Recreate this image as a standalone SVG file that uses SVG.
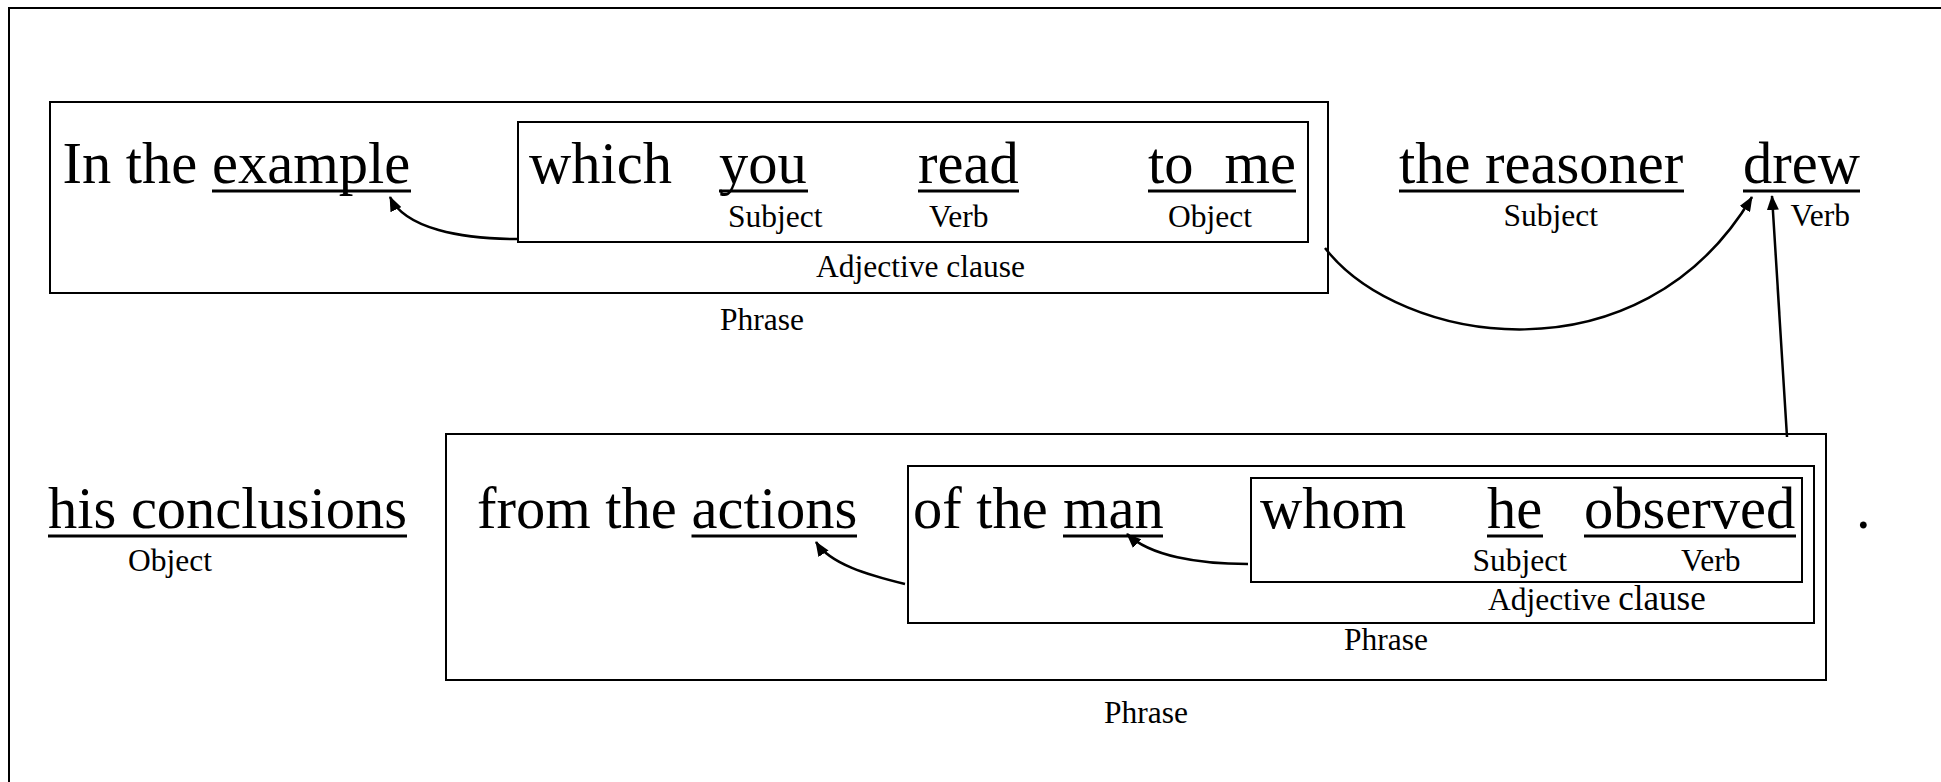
<svg xmlns="http://www.w3.org/2000/svg" width="1941" height="782" viewBox="0 0 1941 782">
<style>
.box{fill:none;stroke:#000;stroke-width:2}
.big{font-family:"Liberation Serif","Times New Roman",serif;font-size:58.5px;fill:#000}
.sm{font-family:"Liberation Serif","Times New Roman",serif;font-size:31.5px;fill:#000}
.ul{stroke:#000;stroke-width:3}
.con{fill:none;stroke:#000;stroke-width:2.5}
</style>
<defs>
<marker id="ah" markerUnits="userSpaceOnUse" markerWidth="15" markerHeight="12" refX="14" refY="6" orient="auto">
<path d="M0,0 L15,6 L0,12 z" fill="#000"/>
</marker>
</defs>
<rect x="0" y="0" width="1941" height="782" fill="#fff"/>
<rect id="frame" x="9" y="8" width="1960" height="800" class="box"/>

<g id="phrase-top">
<rect x="50" y="102" width="1278" height="191" class="box"/>
<text class="big" x="62.5" y="183">In the </text>
<text class="big" x="212" y="183">example</text>
<line class="ul" x1="212" y1="191" x2="411" y2="191"/>
<text class="sm" x="720" y="330">Phrase</text>
</g>

<g id="adjclause-top">
<rect x="518" y="122" width="790" height="120" class="box"/>
<text class="big" x="529" y="183">which</text>
<text class="big" x="719" y="183">you</text>
<line class="ul" x1="719" y1="191" x2="808" y2="191"/>
<text class="big" x="918" y="183">read</text>
<line class="ul" x1="918" y1="191" x2="1019" y2="191"/>
<text class="big" x="1148" y="183">to</text>
<text class="big" x="1224.5" y="183">me</text>
<line class="ul" x1="1148" y1="191" x2="1296" y2="191"/>
<text class="sm" x="728" y="227">Subject</text>
<text class="sm" x="929" y="227">Verb</text>
<text class="sm" x="1168" y="227">Object</text>
<text class="sm" x="816" y="277">Adjective clause</text>
</g>

<g id="subject">
<text class="big" x="1399" y="183">the reasoner</text>
<line class="ul" x1="1399" y1="191" x2="1684" y2="191"/>
<text class="sm" x="1503.5" y="226">Subject</text>
</g>

<g id="verb">
<text class="big" x="1743" y="183">drew</text>
<line class="ul" x1="1743" y1="191" x2="1860" y2="191"/>
<text class="sm" x="1790.5" y="226">Verb</text>
</g>

<g id="object">
<text class="big" x="48" y="528">his conclusions</text>
<line class="ul" x1="48" y1="536" x2="407" y2="536"/>
<text class="sm" x="128" y="571">Object</text>
</g>

<g id="phrase-bottom">
<rect x="446" y="434" width="1380" height="246" class="box"/>
<text class="big" x="477" y="528">from the </text>
<text class="big" x="691.5" y="528">actions</text>
<line class="ul" x1="691.5" y1="536" x2="857" y2="536"/>
<text class="sm" x="1104" y="723">Phrase</text>
</g>

<g id="phrase-middle">
<rect x="908" y="466" width="906" height="157" class="box"/>
<text class="big" x="913" y="528">of the </text>
<text class="big" x="1063" y="528">man</text>
<line class="ul" x1="1063" y1="536" x2="1163" y2="536"/>
<text class="sm" x="1344" y="650">Phrase</text>
</g>

<g id="adjclause-bottom">
<rect x="1251" y="478" width="551" height="104" class="box"/>
<text class="big" x="1260" y="528">whom</text>
<text class="big" x="1487" y="528">he</text>
<line class="ul" x1="1487" y1="536" x2="1543" y2="536"/>
<text class="big" x="1584" y="528">observed</text>
<line class="ul" x1="1584" y1="536" x2="1796" y2="536"/>
<text class="sm" x="1472.5" y="571">Subject</text>
<text class="sm" x="1681" y="571">Verb</text>
<text class="sm" x="1488" y="610">Adjective <tspan font-size="35">clause</tspan></text>
</g>

<g id="period">
<text class="big" x="1856" y="528">.</text>
</g>

<g id="connectors">
<path class="con" d="M518,239 C462,239 405,229 390,197" marker-end="url(#ah)"/>
<path class="con" d="M1325,248 C1400,345 1640,385 1752,197" marker-end="url(#ah)"/>
<path class="con" d="M1787,437 L1772,196" marker-end="url(#ah)"/>
<path class="con" d="M905,584 C868,575 830,564 816,542" marker-end="url(#ah)"/>
<path class="con" d="M1248,564 C1198,564 1150,556 1127,534" marker-end="url(#ah)"/>
</g>
</svg>
